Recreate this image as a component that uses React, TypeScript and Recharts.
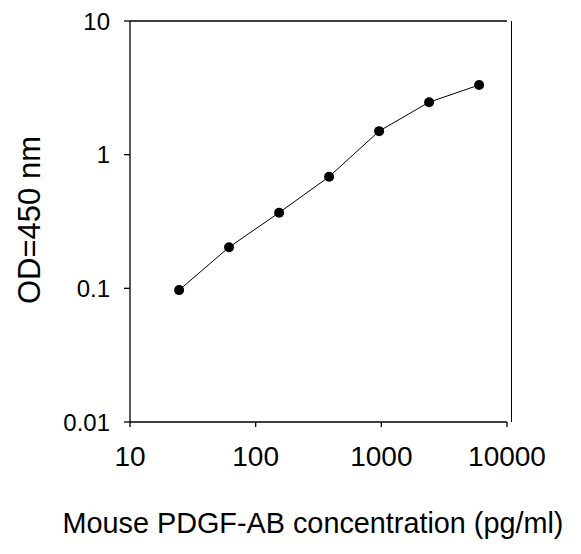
import React from "react"
import { LineChart, Line, XAxis, YAxis, ReferenceLine } from "recharts"

// standard curve readings
const concentration = [24.6, 61.4, 153.6, 384, 960, 2400, 6000]
const od450 = [0.097, 0.203, 0.368, 0.684, 1.5, 2.47, 3.32]
const xTicks = [10, 100, 1000, 10000]
const yTicks = [0.01, 0.1, 1, 10]

const FONT = "'Liberation Sans', Arial, sans-serif"

const data = concentration.map((c, i) => ({ conc: c, od: od450[i] }))

const renderXTick = ({ x, y, payload }: any) => (
  <text key={`x-${payload.value}`} x={x} y={y} dy={39} textAnchor="middle" fontSize={28} fontFamily={FONT} fill="#000">
    {String(payload.value)}
  </text>
)

const renderYTick = ({ x, y, payload }: any) => (
  <text key={`y-${payload.value}`} x={x} y={y} dy="0.36em" textAnchor="end" fontSize={24} fontFamily={FONT} fill="#000">
    {String(payload.value)}
  </text>
)

export default function App() {
  return (
    <div style={{ position: "absolute", left: 0, top: 0, width: 581, height: 554, background: "#fff" }}>
      <LineChart
        width={581}
        height={554}
        data={data}
        margin={{ top: 21, right: 74, bottom: 0, left: 0 }}
      >
        <XAxis
          dataKey="conc"
          type="number"
          scale="log"
          domain={[10, 10000]}
          ticks={xTicks}
          allowDataOverflow
          height={132}
          tickSize={5}
          tickMargin={0}
          tick={renderXTick}
          stroke="#000"
          strokeWidth={1.3}
        />
        <YAxis
          type="number"
          scale="log"
          domain={[0.01, 10]}
          ticks={yTicks}
          allowDataOverflow
          width={130}
          tickSize={6}
          tickMargin={14}
          tick={renderYTick}
          stroke="#000"
          strokeWidth={1.3}
        />
        {/* top edge of the frame */}
        <ReferenceLine y={10} stroke="#000" strokeWidth={1.3} />
        <Line
          type="linear"
          dataKey="od"
          stroke="#000"
          strokeWidth={1}
          dot={{ r: 5, fill: "#000", stroke: "none" }}
          activeDot={false}
          isAnimationActive={false}
        />
      </LineChart>
      {/* right frame edge sits a few px past the last x tick */}
      <div style={{ position: "absolute", left: 511, top: 21, width: 1.3, height: 401, background: "#000" }} />
      <div
        style={{
          position: "absolute",
          left: 29,
          top: 220,
          transform: "translate(-50%, -50%) rotate(-90deg)",
          whiteSpace: "nowrap",
          fontFamily: FONT,
          fontSize: 31,
          lineHeight: 1,
          color: "#000",
        }}
      >
        OD=450 nm
      </div>
      <div
        style={{
          position: "absolute",
          left: 313,
          top: 509,
          transform: "translateX(-50%)",
          whiteSpace: "nowrap",
          fontFamily: FONT,
          fontSize: 28.8,
          lineHeight: 1,
          color: "#000",
        }}
      >
        Mouse PDGF-AB concentration (pg/ml)
      </div>
    </div>
  )
}
